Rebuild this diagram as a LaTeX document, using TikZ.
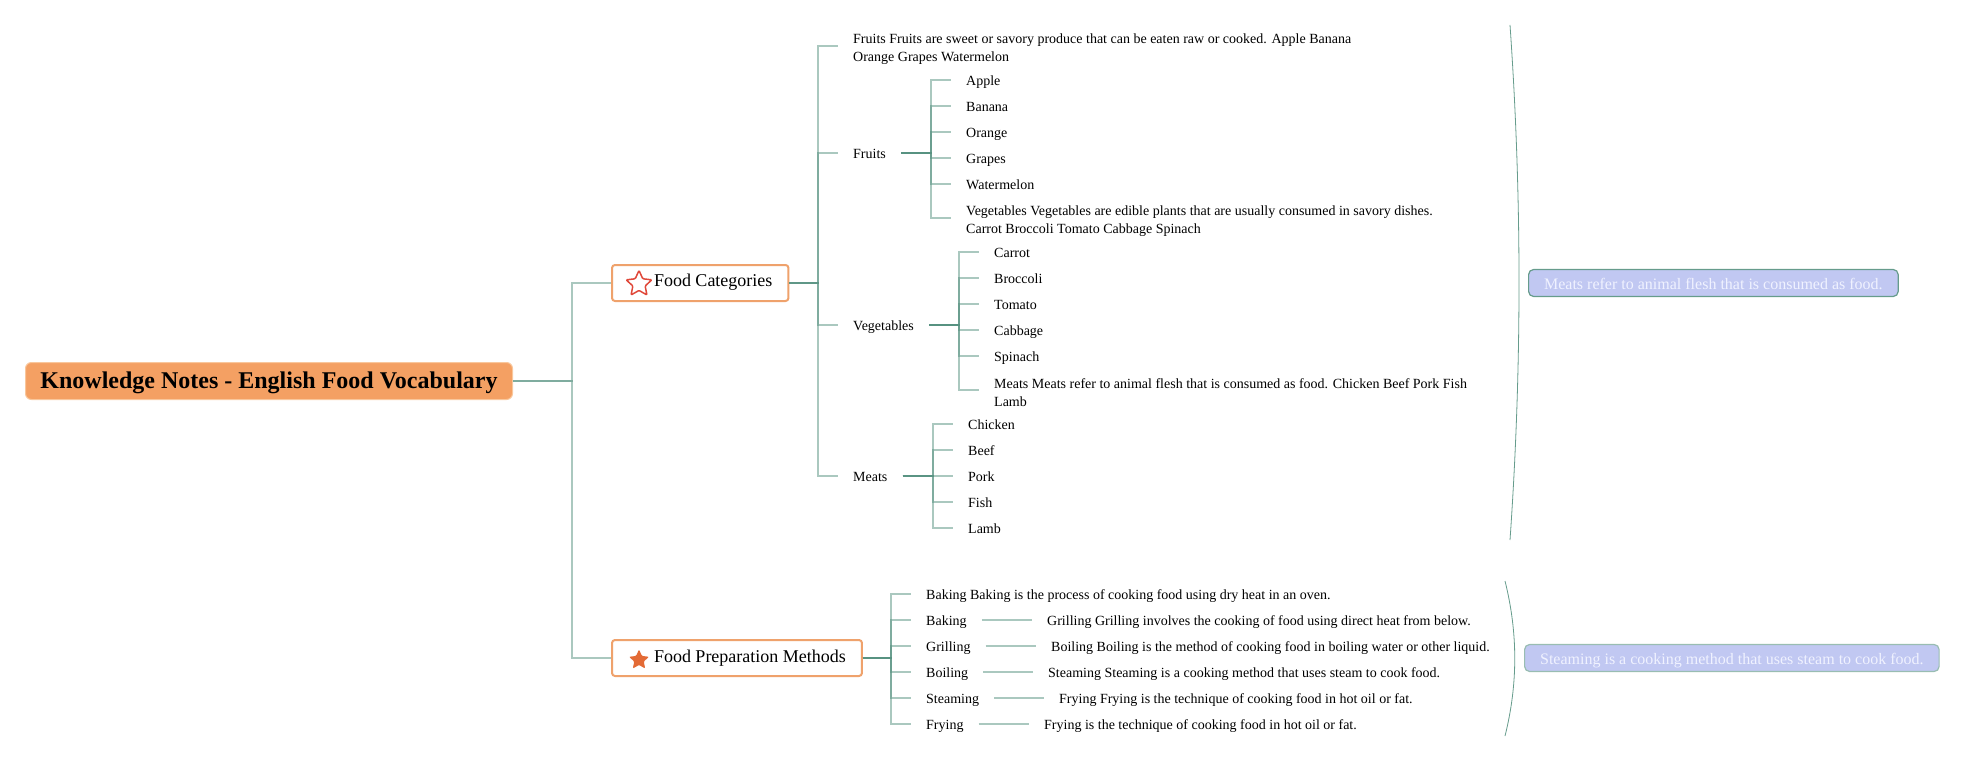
\documentclass[tikz,border=0pt]{standalone}
\usepackage{fontspec}
\setmainfont{Liberation Serif}
\usetikzlibrary{calc,shapes.geometric}
\definecolor{linkgreen}{HTML}{55917F}
\definecolor{rootfill}{HTML}{F4A063}
\definecolor{rootedge}{HTML}{F9C79C}
\definecolor{topicedge}{HTML}{EFA26C}
\definecolor{sumfill}{HTML}{C1C8F2}
\definecolor{sumtext}{HTML}{F0F2FF}
\definecolor{starred}{HTML}{E0483A}
\definecolor{starorange}{HTML}{E36A35}
\tikzset{
  elbow/.style={to path={(\tikztostart.east) -| ($(\tikztotarget.west)+(-#1,0)$) -- (\tikztotarget.west)}},
  elbow/.default=20,
  link/.style={draw=linkgreen,draw opacity=.5,line width=2pt},
  rootbox/.style={anchor=west,fill=rootfill,draw=rootedge,line width=1pt,rounded corners=6pt,
    font=\fontsize{24}{28}\selectfont\bfseries,inner xsep=14pt,inner ysep=0pt,text height=21pt,text depth=6pt,minimum height=37pt,minimum width=487pt},
  topic/.style={anchor=west,fill=white,draw=topicedge,line width=2pt,rounded corners=3pt,
    font=\fontsize{18}{22}\selectfont,inner xsep=16pt,inner ysep=0pt,text height=14pt,text depth=6pt,minimum height=36pt},
  leaf/.style={anchor=west,font=\fontsize{14}{18}\selectfont,inner xsep=15pt,inner ysep=0pt,text height=13pt,text depth=2pt},
  leaftwo/.style={leaf,align=left,text height=37pt,text depth=5pt},
  sumbox/.style={anchor=west,fill=sumfill,draw=#1,line width=1.2pt,rounded corners=5pt,text=sumtext,
    font=\fontsize{16}{20}\selectfont,inner xsep=15.5pt,inner ysep=0pt,text height=16pt,text depth=4pt,minimum height=27pt},
  bracket/.style={draw=linkgreen,draw opacity=.9,line width=.8pt},
}
\begin{document}
\begin{tikzpicture}[x=1pt,y=-1pt]
  \useasboundingbox (0,0) rectangle (1984,762);
  \draw
    (25,381) node[rootbox] (root){Knowledge Notes - English Food Vocabulary}
    (611,283) node[topic] (cat){\hspace*{26pt}Food Categories}
    (611,658) node[topic] (prep){\hspace*{26pt}Food Preparation Methods}
    (838,46) node[leaftwo] (fruitsnote){Fruits Fruits are sweet or savory produce that can be eaten raw or cooked. Apple Banana\\Orange Grapes Watermelon}
    (838,153) node[leaf] (fruits){Fruits}
    (838,325) node[leaf] (veg){Vegetables}
    (838,476) node[leaf] (meats){Meats}
    (951,80) node[leaf] (apple){Apple}
    (951,106) node[leaf] (banana){Banana}
    (951,132) node[leaf] (orange){Orange}
    (951,158) node[leaf] (grapes){Grapes}
    (951,184) node[leaf] (watermelon){Watermelon}
    (951,218) node[leaftwo] (vegnote){Vegetables Vegetables are edible plants that are usually consumed in savory dishes.\\Carrot Broccoli Tomato Cabbage Spinach}
    (979,252) node[leaf] (carrot){Carrot}
    (979,278) node[leaf] (broccoli){Broccoli}
    (979,304) node[leaf] (tomato){Tomato}
    (979,330) node[leaf] (cabbage){Cabbage}
    (979,356) node[leaf] (spinach){Spinach}
    (979,390) node[leaftwo] (meatsnote){Meats Meats refer to animal flesh that is consumed as food. Chicken Beef Pork Fish\\Lamb}
    (953,424) node[leaf] (chicken){Chicken}
    (953,450) node[leaf] (beef){Beef}
    (953,476) node[leaf] (pork){Pork}
    (953,502) node[leaf] (fish){Fish}
    (953,528) node[leaf] (lamb){Lamb}
    (911,594) node[leaf] (bakingnote){Baking Baking is the process of cooking food using dry heat in an oven.}
    (911,620) node[leaf] (baking){Baking}
    (911,646) node[leaf] (grilling){Grilling}
    (911,672) node[leaf] (boiling){Boiling}
    (911,698) node[leaf] (steaming){Steaming}
    (911,724) node[leaf] (frying){Frying}
    (1032,620) node[leaf] (grillingnote){Grilling Grilling involves the cooking of food using direct heat from below.}
    (1036,646) node[leaf] (boilingnote){Boiling Boiling is the method of cooking food in boiling water or other liquid.}
    (1033,672) node[leaf] (steamingnote){Steaming Steaming is a cooking method that uses steam to cook food.}
    (1044,698) node[leaf] (fryingnote){Frying Frying is the technique of cooking food in hot oil or fat.}
    (1029,724) node[leaf] (fryingtext){Frying is the technique of cooking food in hot oil or fat.}
    (1528,283) node[sumbox=linkgreen!90] (meatssum){Meats refer to animal flesh that is consumed as food.}
    (1524,658) node[sumbox=linkgreen!60] (steamsum){Steaming is a cooking method that uses steam to cook food.};
  \node[star,star points=5,star point ratio=2.1,minimum size=27pt,inner sep=0pt,draw=starred,line width=1.5pt,rounded corners=1pt,fill=white] (staro) at ($(cat.west)+(28,1)$) {};
  \node[star,star points=5,star point ratio=2.1,minimum size=21pt,inner sep=0pt,fill=starorange,rounded corners=1pt] (starf) at ($(prep.west)+(28,2)$) {};
  \begin{scope}[link,elbow]
    \draw[elbow=39] (root) to (cat);
    \draw[elbow=39] (root) to (prep);
    \draw (cat) to (fruitsnote);
    \draw (cat) to (fruits);
    \draw (cat) to (veg);
    \draw (cat) to (meats);
    \draw (fruits) to (apple);
    \draw (fruits) to (banana);
    \draw (fruits) to (orange);
    \draw (fruits) to (grapes);
    \draw (fruits) to (watermelon);
    \draw (fruits) to (vegnote);
    \draw (veg) to (carrot);
    \draw (veg) to (broccoli);
    \draw (veg) to (tomato);
    \draw (veg) to (cabbage);
    \draw (veg) to (spinach);
    \draw (veg) to (meatsnote);
    \draw (meats) to (chicken);
    \draw (meats) to (beef);
    \draw (meats) to (pork);
    \draw (meats) to (fish);
    \draw (meats) to (lamb);
    \draw (prep) to (bakingnote);
    \draw (prep) to (baking);
    \draw (prep) to (grilling);
    \draw (prep) to (boiling);
    \draw (prep) to (steaming);
    \draw (prep) to (frying);
    \draw (baking) to (grillingnote);
    \draw (grilling) to (boilingnote);
    \draw (boiling) to (steamingnote);
    \draw (steaming) to (fryingnote);
    \draw (frying) to (fryingtext);
  \end{scope}
  \coordinate (meatstop) at (1510,25);
  \coordinate (meatsend) at (1510,540);
  \coordinate (steamtop) at (1505,581);
  \coordinate (steamend) at (1505,736);
  \draw[bracket] (meatstop) .. controls (1522,197) and (1522,368) .. (meatsend);
  \draw[bracket] (steamtop) .. controls (1518,633) and (1518,684) .. (steamend);
\end{tikzpicture}
\end{document}
